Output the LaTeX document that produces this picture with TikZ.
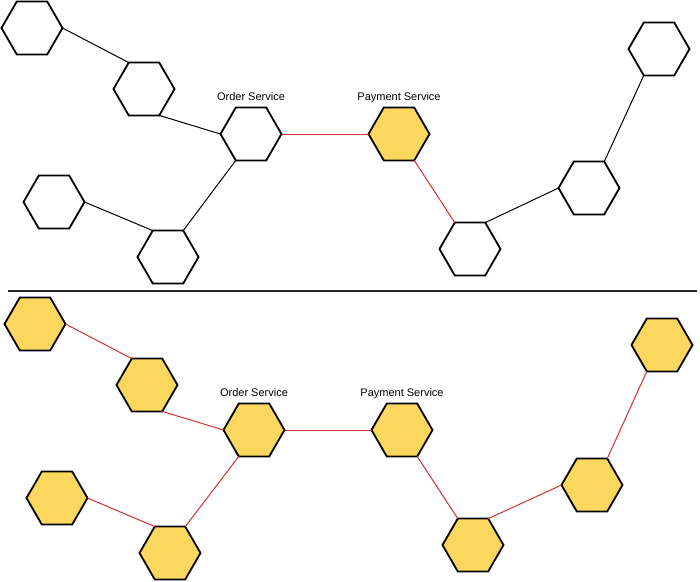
\documentclass[tikz,border=0pt]{standalone}
\usepackage{fontspec}
\setmainfont{Liberation Sans}
\usetikzlibrary{positioning, shapes.geometric}

\definecolor{hexyellow}{HTML}{FBD85D}
\definecolor{callred}{HTML}{D2312E}

\begin{document}
\begin{tikzpicture}[
    x=1pt, y=-1pt,
    hexnode/.style={regular polygon, regular polygon sides=6, draw, line width=1.8pt,
        minimum size=61pt, inner sep=0pt, outer sep=0pt, fill=white},
    hot/.style={hexnode, fill=hexyellow},
    svc label/.style={font=\fontsize{11}{13}\selectfont, inner sep=0pt, text depth=0pt},
    link/.style={line width=1pt, black},
    call/.style={line width=1pt, callred}
]
    \useasboundingbox (0,0) rectangle (700,581);

    % oben: nur Payment Service betroffen
    \node[hexnode] (h1) at (32, 28) {};
    \node[hexnode] (h2) at (144, 89) {};
    \node[hexnode] (order) at (251, 134) {};
    \node[hexnode] (h4) at (54, 202) {};
    \node[hexnode] (h5) at (168, 257) {};
    \node[hot] (pay) at (399, 134) {};
    \node[hexnode] (h7) at (470, 249) {};
    \node[hexnode] (h8) at (589, 188) {};
    \node[hexnode] (h9) at (659, 49) {};

    \node[svc label, above=7pt of order] (orderlbl) {Order Service};
    \node[svc label, above=7pt of pay] (paylbl) {Payment Service};

    \draw[link] (h1.0) -- (h2.120);
    \draw[link] (h2.300) -- (order.180);
    \draw[link] (order.240) -- (h5.60);
    \draw[link] (h4.0) -- (h5.120);
    \draw[call] (order.0) -- (pay.180);
    \draw[call] (pay.300) -- (h7.120);
    \draw[link] (h7.60) -- (h8.180);
    \draw[link] (h8.60) -- (h9.240);

    % Trennlinie
    \coordinate (divl) at (8, 291);
    \coordinate (divr) at (697, 291);
    \draw[line width=1.2pt, black!85] (divl) -- (divr);

    % unten: alle betroffen
    \node[hot] (b1) at (35, 324) {};
    \node[hot] (b2) at (147, 385) {};
    \node[hot] (border) at (254, 430) {};
    \node[hot] (b4) at (57, 498) {};
    \node[hot] (b5) at (170, 553) {};
    \node[hot] (bpay) at (402, 430) {};
    \node[hot] (b7) at (473, 545) {};
    \node[hot] (b8) at (592, 485) {};
    \node[hot] (b9) at (662, 345) {};

    \node[svc label, above=7pt of border] (borderlbl) {Order Service};
    \node[svc label, above=7pt of bpay] (bpaylbl) {Payment Service};

    \draw[call] (b1.0) -- (b2.120);
    \draw[call] (b2.300) -- (border.180);
    \draw[call] (border.240) -- (b5.60);
    \draw[call] (b4.0) -- (b5.120);
    \draw[call] (border.0) -- (bpay.180);
    \draw[call] (bpay.300) -- (b7.120);
    \draw[call] (b7.60) -- (b8.180);
    \draw[call] (b8.60) -- (b9.240);
\end{tikzpicture}
\end{document}
